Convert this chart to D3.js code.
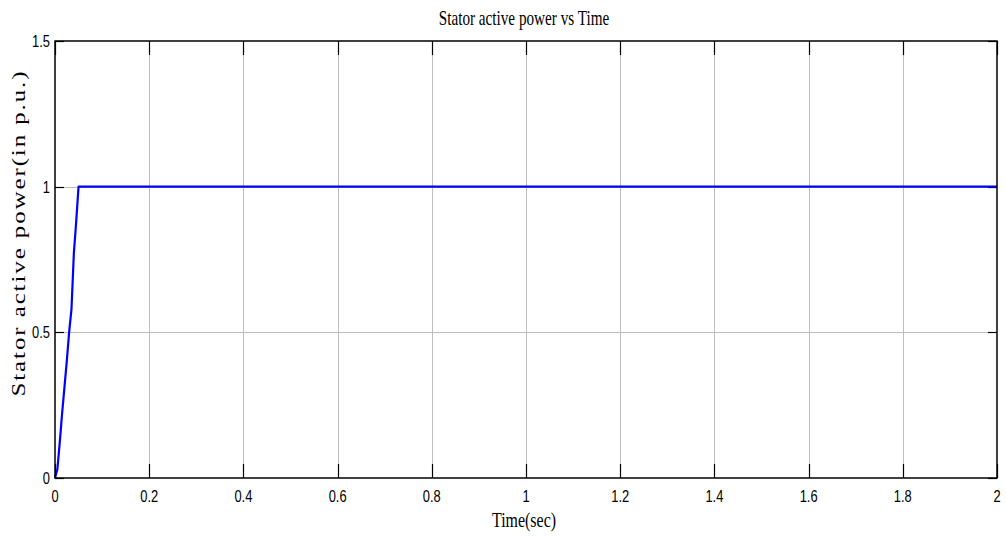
<!DOCTYPE html>
<html>
<head>
<meta charset="utf-8">
<script src="https://cdn.jsdelivr.net/npm/d3@7"></script>
<style>
  html, body { margin: 0; padding: 0; background: #fff; }
  svg { display: block; }
</style>
</head>
<body>
<svg id="chart" width="1006" height="539"></svg>
<script>
// Stator active power response (p.u.) over time (s)
const timeValues  = [0, 0.005, 0.01, 0.015, 0.02, 0.025, 0.03, 0.035, 0.04, 0.045, 0.05, 2.0];
const powerValues = [0, 0.03, 0.12, 0.22, 0.31, 0.40, 0.50, 0.58, 0.77, 0.88, 1.0, 1.0];
const xTicks = [0, 0.2, 0.4, 0.6, 0.8, 1, 1.2, 1.4, 1.6, 1.8, 2];
const yTicks = [0, 0.5, 1, 1.5];
const xTickLabels = ["0", "0.2", "0.4", "0.6", "0.8", "1", "1.2", "1.4", "1.6", "1.8", "2"];
const yTickLabels = ["0", "0.5", "1", "1.5"];
const titleText = "Stator active power vs Time";
const xLabelText = "Time(sec)";
const yLabelText = "Stator active power(in p.u.)";

(function draw() {
  const svg = d3.select("#chart");
  const pLeft = 55, pRight = 997, pTop = 41, pBottom = 478;
  const sx = 0.76; // horizontal text compression

  const x = d3.scaleLinear().domain([0, 2]).range([pLeft, pRight]);
  const y = d3.scaleLinear().domain([0, 1.5]).range([pBottom, pTop]);

  // grid lines
  const grid = svg.append("g").attr("stroke", "#bdbdbd").attr("stroke-width", 1);
  xTicks.slice(1, -1).forEach(t => {
    grid.append("line").attr("x1", Math.round(x(t)) + 0.5).attr("x2", Math.round(x(t)) + 0.5)
      .attr("y1", pTop).attr("y2", pBottom);
  });
  yTicks.slice(1, -1).forEach(t => {
    grid.append("line").attr("y1", Math.round(y(t)) + 0.5).attr("y2", Math.round(y(t)) + 0.5)
      .attr("x1", pLeft).attr("x2", pRight);
  });

  // inner tick marks on all four sides
  const tickG = svg.append("g").attr("stroke", "#000").attr("stroke-width", 1.2);
  xTicks.forEach(t => {
    const px = Math.round(x(t)) + 0.5;
    tickG.append("line").attr("x1", px).attr("x2", px).attr("y1", pBottom).attr("y2", pBottom - 14);
    tickG.append("line").attr("x1", px).attr("x2", px).attr("y1", pTop).attr("y2", pTop + 14);
  });
  yTicks.forEach(t => {
    const py = Math.round(y(t)) + 0.5;
    tickG.append("line").attr("x1", pLeft).attr("x2", pLeft + 9).attr("y1", py).attr("y2", py);
    tickG.append("line").attr("x1", pRight).attr("x2", pRight - 9).attr("y1", py).attr("y2", py);
  });

  // data line
  const line = d3.line().x((d, i) => x(timeValues[i])).y(d => y(d));
  svg.append("path").datum(powerValues)
    .attr("d", line)
    .attr("fill", "none")
    .attr("stroke", "#0000ff")
    .attr("stroke-width", 2.2)
    .attr("stroke-linejoin", "round");

  // axes box
  svg.append("rect").attr("x", pLeft).attr("y", pTop)
    .attr("width", pRight - pLeft).attr("height", pBottom - pTop)
    .attr("fill", "none").attr("stroke", "#000").attr("stroke-width", 1.5);

  // tick labels
  const tickFont = "'Liberation Sans', Arial, sans-serif";
  xTicks.forEach((t, i) => {
    svg.append("text")
      .attr("transform", `translate(${x(t)},502) scale(${sx},1)`)
      .attr("text-anchor", "middle")
      .attr("font-family", tickFont).attr("font-size", 17)
      .attr("fill", "#000")
      .text(xTickLabels[i]);
  });
  yTicks.forEach((t, i) => {
    svg.append("text")
      .attr("transform", `translate(50,${y(t) + 6}) scale(${sx},1)`)
      .attr("text-anchor", "end")
      .attr("font-family", tickFont).attr("font-size", 17)
      .attr("fill", "#000")
      .text(yTickLabels[i]);
  });

  // title and axis labels
  const serif = "'Liberation Serif', 'Times New Roman', serif";
  svg.append("text")
    .attr("transform", `translate(${(pLeft + pRight) / 2 - 2},25) scale(${sx},1)`)
    .attr("text-anchor", "middle")
    .attr("font-family", serif).attr("font-size", 20)
    .attr("fill", "#000")
    .text(titleText);

  svg.append("text")
    .attr("transform", `translate(${(pLeft + pRight) / 2 - 2},527) scale(${sx},1)`)
    .attr("text-anchor", "middle")
    .attr("font-family", serif).attr("font-size", 21)
    .attr("fill", "#000")
    .text(xLabelText);

  svg.append("text")
    .attr("transform", `translate(25,234) scale(${sx},1) rotate(-90)`)
    .attr("text-anchor", "middle")
    .attr("font-family", serif).attr("font-size", 25)
    .attr("textLength", 325).attr("lengthAdjust", "spacing")
    .attr("fill", "#000")
    .text(yLabelText);
})();
</script>
</body>
</html>
